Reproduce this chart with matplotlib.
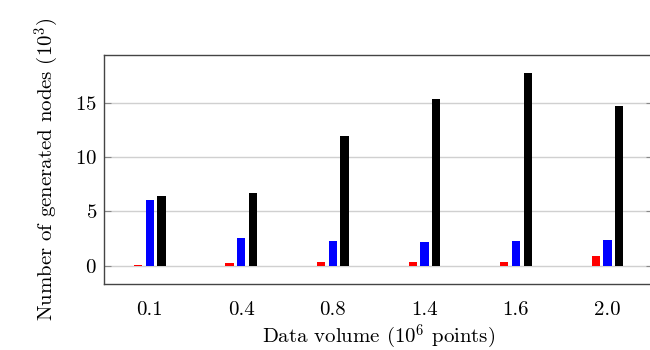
import numpy as np
import matplotlib
matplotlib.use("Agg")
import matplotlib.pyplot as plt

plt.rcParams["font.family"] = "serif"
plt.rcParams["font.serif"] = ["cmr10"]
plt.rcParams["mathtext.fontset"] = "cm"
plt.rcParams["axes.formatter.use_mathtext"] = True

# data (in 10^3 nodes)
volumes = ["0.1", "0.4", "0.8", "1.4", "1.6", "2.0"]
red_vals = [0.08, 0.22, 0.34, 0.34, 0.34, 0.92]
blue_vals = [6.04, 2.58, 2.33, 2.15, 2.24, 2.36]
black_vals = [6.41, 6.66, 11.9, 15.3, 17.7, 14.66]

x = np.arange(len(volumes))
w = 0.09
off = 0.128

fig = plt.figure(figsize=(6.5, 3.5), dpi=100)
ax = fig.add_axes([0.16, 0.19, 0.845, 0.653])

ax.bar(x - off, red_vals, w, color="#ff0000", zorder=3)
ax.bar(x, blue_vals, w, color="#0000ff", zorder=3)
ax.bar(x + off, black_vals, w, color="black", zorder=3)

ax.set_xlim(-0.5, 5.5)
ax.set_ylim(-1.62, 19.38)
ax.set_xticks(x)
ax.set_xticklabels(volumes)
ax.set_yticks([0, 5, 10, 15])

ax.grid(axis="y", color="#d0d0d0", linewidth=1, zorder=0)
ax.tick_params(axis="x", length=0, labelsize=15, pad=13)
ax.tick_params(axis="y", direction="in", length=5, color="#888888",
               right=True, labelsize=15, pad=5)

for s in ax.spines.values():
    s.set_color("#444444")
    s.set_linewidth(1)

ax.set_xlabel(r"Data volume ($10^6$ points)", fontsize=15, labelpad=2)
ax.set_ylabel(r"Number of generated nodes ($10^3$)", fontsize=15, labelpad=10)

fig.savefig("out.png", dpi=100)
